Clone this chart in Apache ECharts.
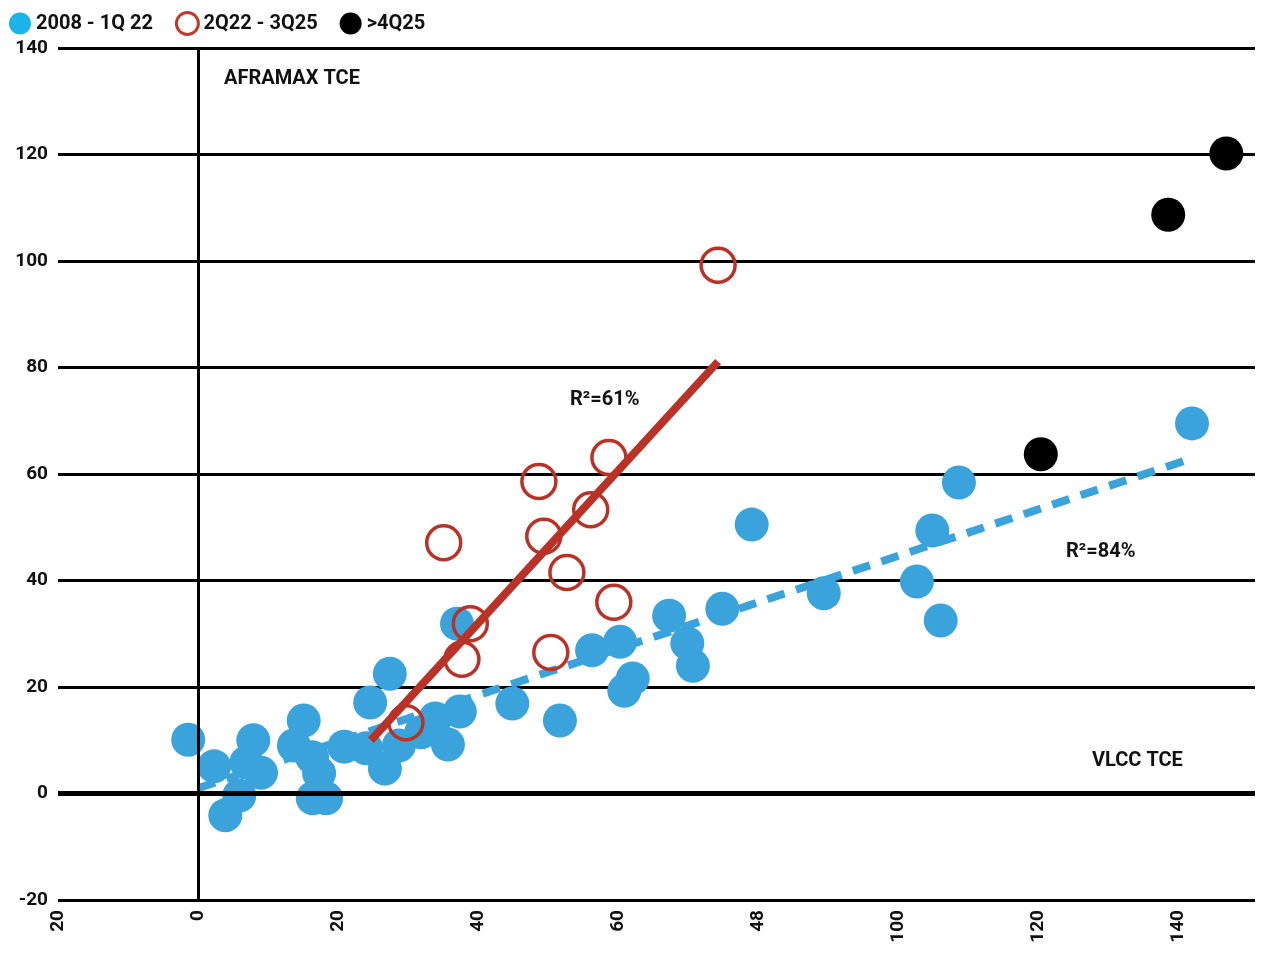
<!DOCTYPE html>
<html><head><meta charset="utf-8">
<script src="https://cdn.jsdelivr.net/npm/echarts@6/dist/echarts.min.js"></script>
<style>html,body{margin:0;background:#fff}#c{width:1280px;height:971px}</style>
</head><body><div id="c"></div>
<script>
const xTickLabels = ['20','0','20','40','60','48','100','120','140'];
const yTickLabels = ['-20','0','20','40','60','80','100','120','140'];
const blue2008 = [[-1.4,10.1],[2.3,5.1],[3.9,-4.1],[5.9,-0.4],[6.9,5.8],[7.9,10],[9,3.9],[13.7,9],[15.1,13.7],[16.3,6.8],[17.3,3.8],[16.4,-0.9],[18.3,-0.9],[20.9,8.8],[24,8.5],[24.6,17.1],[26.7,4.7],[27.4,22.5],[28.7,9],[31.9,11.5],[33.9,14.1],[35.7,9.2],[37,31.9],[37.4,15.4],[44.9,16.9],[51.7,13.7],[56.3,26.9],[60.3,28.5],[60.9,19.3],[62.1,21.6],[67.3,33.4],[69.9,28.2],[70.7,24],[74.9,34.7],[79.1,50.5],[89.4,37.6],[102.7,39.8],[104.9,49.4],[106.1,32.5],[108.7,58.4],[142,69.5]];
const red2Q22 = [[29.7,13.3],[37.7,25.2],[38.9,31.9],[35.1,47.1],[48.7,58.6],[49.4,48.3],[50.4,26.5],[52.7,41.5],[56.1,53.3],[58.7,63.1],[59.4,35.9],[74.3,99.2]];
const black4Q25 = [[120.4,63.7],[138.6,108.7],[146.9,120.2]];
const redTrend = [[24.7,10],[74.3,81.1]];
const blueTrend = [[0,1],[141,62.5]];
const F = 'Roboto, "DejaVu Sans", sans-serif';
const chart = echarts.init(document.getElementById('c'));
chart.setOption({
  animation:false,
  grid:{left:58,right:25,top:48,bottom:71},
  legend:{left:4,top:6,itemGap:22,itemWidth:22,itemHeight:22,textStyle:{fontFamily:F,fontWeight:'bold',fontSize:20,color:'#111'},
    data:[{name:'2008 - 1Q 22',icon:'circle',itemStyle:{color:'#1cb3ea'}},{name:'2Q22 - 3Q25',icon:'circle',itemStyle:{color:'#fff',borderColor:'#c0392b',borderWidth:3}},{name:'>4Q25',icon:'circle',itemStyle:{color:'#000'}}]},
  xAxis:{type:'value',min:-20,max:151,interval:20,axisLine:{show:false},axisTick:{show:false},splitLine:{show:false},
    axisLabel:{rotate:90,fontFamily:F,fontWeight:'bold',fontSize:19,color:'#111',showMaxLabel:false,margin:10,
      formatter:v=>{const i=Math.round((v+20)/20);return (v+20)%20===0&&i<xTickLabels.length?xTickLabels[i]:'';}}},
  yAxis:{type:'value',min:-20,max:140,interval:20,axisLine:{show:false},axisTick:{show:false},
    splitLine:{lineStyle:{color:'#000',width:3}},
    axisLabel:{fontFamily:F,fontWeight:'bold',fontSize:19,color:'#111',margin:10,formatter:v=>yTickLabels[Math.round((v+20)/20)]}},
  graphic:[
    {type:'text',left:224,top:69,style:{text:'AFRAMAX TCE',font:'bold 20px '+F,fill:'#111'}},
    {type:'text',left:1092,top:751,style:{text:'VLCC TCE',font:'bold 20px '+F,fill:'#111'}},
    {type:'text',left:570,top:390,style:{text:'R²=61%',font:'bold 20px '+F,fill:'#111'}},
    {type:'text',left:1066,top:542,style:{text:'R²=84%',font:'bold 20px '+F,fill:'#111'}}
  ],
  series:[
    {type:'line',data:[],silent:true,markLine:{symbol:'none',silent:true,label:{show:false},
      data:[{xAxis:0,lineStyle:{color:'#000',width:3,type:'solid'}},{yAxis:0,lineStyle:{color:'#000',width:5,type:'solid'}}]}},
    {name:'2008 - 1Q 22',type:'scatter',data:blue2008,symbolSize:34,itemStyle:{color:'#3aa3dc',opacity:1},z:3},
    {type:'line',data:blueTrend,symbol:'none',lineStyle:{color:'#3aa3dc',width:8,type:[18,12]},z:4},
    {name:'2Q22 - 3Q25',type:'scatter',data:red2Q22,symbolSize:34,itemStyle:{color:'rgba(255,255,255,0)',borderColor:'#b83227',borderWidth:3.5,opacity:1},z:5},
    {type:'line',data:redTrend,symbol:'none',lineStyle:{color:'#b83227',width:8},z:6},
    {name:'>4Q25',type:'scatter',data:black4Q25,symbolSize:34,itemStyle:{color:'#000',opacity:1},z:5}
  ]
});
</script></body></html>
